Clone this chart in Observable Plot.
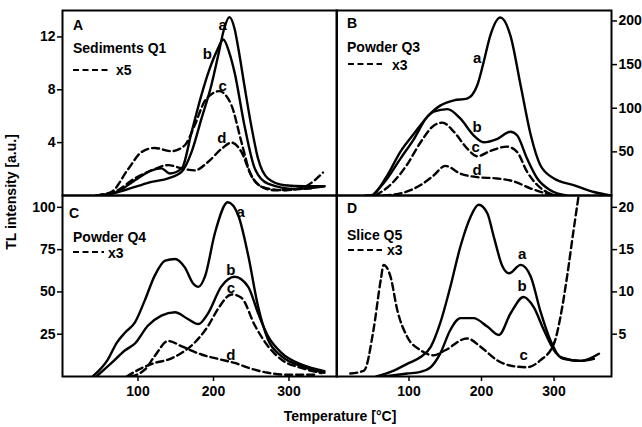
<!DOCTYPE html>
<html><head><meta charset="utf-8">
<script src="https://cdn.jsdelivr.net/npm/d3@7"></script>
<script src="https://cdn.jsdelivr.net/npm/@observablehq/plot@0.6"></script>
<style>
body{margin:0;background:#fff;}
#wrap{position:relative;width:642px;height:427px;overflow:hidden;background:#fff;}
#wrap svg{position:absolute;overflow:visible;}
</style></head><body><div id="wrap"></div>
<script>
// ---- Data: [temperature °C, TL intensity] ----
// Panel A: Sediments Q1 (c, d dashed = x5)
const A_a = [[45,0],[69,0.2],[96,0.65],[118,1.03],[140,1.3],[158,1.8],[171,3.3],[184,5.8],[197,8.3],[207,10.8],[214,12.6],[221,13.5],[228,12.6],[233,11.1],[241,8.3],[250,5.3],[259,2.8],[272,1.3],[294,0.78],[320,0.7],[347,0.7]];
const A_b = [[45,0],[69,0.2],[96,1.15],[118,1.9],[131,2.05],[142,1.66],[158,2.05],[171,4.8],[184,7.6],[195,9.6],[205,11],[213,11.8],[221,10.8],[228,9.3],[241,5.3],[255,2.0],[272,0.9],[308,0.5],[347,0.7]];
const A_c = [[45,0],[65,0.28],[87,2.0],[105,3.3],[122,3.6],[144,3.35],[162,3.8],[175,5.3],[188,7.1],[198,7.7],[208,7.9],[216,7.6],[224,6.8],[237,4.05],[248,1.8],[264,0.65],[281,0.4],[317,0.5],[330,0.55]];
const A_d = [[45,0],[69,0.28],[96,1.3],[118,1.9],[140,2.3],[158,2.05],[175,1.9],[193,2.55],[211,3.55],[224,4.0],[237,3.3],[250,1.5],[268,0.58],[294,0.4],[317,0.58],[334,1.15],[345,1.74]];
// Panel B: Powder Q3 (c, d dashed = x3)
const B_a = [[40,0],[47,0],[70,23],[88,50],[107,71],[125,90],[143,103],[162,109],[180,111],[194,126],[203,153],[212,183],[226,204],[240,183],[254,126],[268,69],[281,35],[300,19.5],[327,12],[355,4],[378,0]];
const B_b = [[50,0],[70,19.5],[88,42],[107,65],[125,90],[134,96],[153,99],[171,88],[189,69],[203,61],[222,65],[240,73],[249,69],[263,42],[277,19.5],[295,6],[317,0]];
const B_c = [[54,0],[79,16],[97,35],[116,61],[134,80],[146,83.5],[162,73],[180,54],[194,45],[212,51],[235,56],[249,50],[263,27],[277,12],[291,3.5],[305,0]];
const B_d = [[65,0],[93,3.5],[116,12],[134,23],[150,34],[171,25],[194,21],[222,19.5],[245,16],[268,8],[291,2],[305,0]];
// Panel C: Powder Q4 (c, d dashed = x3)
const C_a = [[40,0],[60,10],[72,20],[83,26],[96,32],[109,45],[122,59.5],[136,68.5],[149,69.5],[162,64.5],[173,55],[180,53],[189,59.5],[202,85],[219,103],[233,95],[246,71.5],[259,41.5],[272,22],[290,12],[317,6],[347,2.2]];
const C_b = [[45,0],[65,8],[83,15.5],[96,19.5],[113,30],[131,36],[149,38],[166,34],[180,31],[193,37.5],[210,53],[228,59],[246,53],[259,37.5],[272,24],[290,14],[317,7],[347,3.2]];
const C_c = [[85,0],[105,5],[122,8],[140,10],[158,14],[175,20],[193,30],[206,40],[224,48.5],[237,46.5],[255,30],[272,18],[290,10],[317,5],[343,2]];
const C_d = [[90,0],[109,4],[122,12],[140,21],[158,17.8],[184,13],[210,10],[228,8],[250,4.6],[272,2.2],[300,1],[335,1]];
// Panel D: Slice Q5 (c dashed = x3)
const D_a = [[55,0],[79,0.7],[97.5,1.5],[116,2.3],[130,3.5],[143,6.3],[157,10.6],[171,15.4],[185,18.9],[196,20.3],[208,19.3],[217,16.5],[229,13],[238,12.2],[254,13.2],[268,11.8],[281,7.8],[295,4.3],[309,2.3],[337,1.85],[362,2.7]];
const D_b = [[65,0],[97.5,0.35],[116,0.55],[130,1.1],[143,2.7],[157,5.5],[171,6.9],[189,6.9],[208,5.9],[224,4.9],[240,7.45],[258,9.4],[272,8.2],[286,5.5],[300,3.1],[313,2.1],[337,1.85],[355,2.1]];
const D_c = [[19,0.35],[38,0.7],[51,5.5],[61,11.4],[65,13.2],[74.5,11.8],[84,7.8],[97.5,4.7],[116,3.1],[134,2.5],[150,3.1],[180,4.5],[199,3.5],[222,1.9],[245,1.2],[263,1.1],[281,1.9],[300,3.9],[309,7.1],[318,11.8],[327,17.3],[334,21.4]];

// Tick values
const ticksA = [4, 8, 12];
const ticksB = [50, 100, 150, 200];
const ticksC = [25, 50, 75, 100];
const ticksD = [5, 10, 15, 20];
const ticksX = [100, 200, 300];

// Curve labels [T, value, letter]
const labA = [[212,12.9,"a"],[192,10.7,"b"],[212,8.3,"c"],[211,4.3,"d"]];
const labB = [[194,157,"a"],[194,78,"b"],[192,55,"c"],[194,29,"d"]];
const labC = [[236,97,"a"],[223,63,"b"],[223,52,"c"],[223,12.4,"d"]];
const labD = [[256,14.5,"a"],[256,10.65,"b"],[258,2.5,"c"]];

const FONT = "'Liberation Sans', Arial, sans-serif";
const M = 40;

function annot(items) {
  return (...args) => {
    const dims = args.find(a => a && a.marginLeft !== undefined);
    const g = d3.create("svg:g");
    for (const it of items) {
      if (it.dash) {
        g.append("line")
          .attr("x1", dims.marginLeft + it.x).attr("x2", dims.marginLeft + it.x + it.len)
          .attr("y1", dims.marginTop + it.y).attr("y2", dims.marginTop + it.y)
          .attr("stroke", "black").attr("stroke-width", 2.2).attr("stroke-dasharray", "6,3.5");
      } else {
        g.append("text")
          .attr("x", dims.marginLeft + it.x).attr("y", dims.marginTop + it.y)
          .attr("text-anchor", "start")
          .attr("font-size", it.size || 14).attr("fill", "black").text(it.t);
      }
    }
    return g.node();
  };
}

function panel(o) {
  const fw = o.x1 - o.x0, fh = o.y1 - o.y0;
  const line = (data, dashed) => Plot.line(data, {
    x: d => d[0], y: d => d[1], stroke: "black", strokeWidth: 2.4,
    curve: "monotone-x", clip: true,
    strokeDasharray: dashed ? "7,4" : null, strokeLinejoin: "round"
  });
  const marks = [
    Plot.frame({stroke: "black", strokeWidth: 2}),
    ...o.series.map(([d, dashed]) => line(d, dashed)),
    Plot.text(o.labels, {x: d => d[0], y: d => d[1], text: d => d[2], fontSize: 15, fill: "black"}),
    Plot.axisY({ticks: o.yTicks, anchor: o.yAnchor, tickSize: 5, tickPadding: 2, fontSize: 14, label: null, strokeWidth: 1.5}),
    annot(o.annot)
  ];
  if (o.xAxis) marks.push(Plot.axisX({ticks: ticksX, anchor: "bottom", tickSize: 5, tickPadding: 5, fontSize: 14, label: null, strokeWidth: 1.5}));
  const svg = Plot.plot({
    width: fw + 2 * M, height: fh + 2 * M,
    marginLeft: M, marginRight: M, marginTop: M, marginBottom: M,
    x: {domain: o.xDomain, axis: null},
    y: {domain: o.yDomain, axis: null},
    style: {background: "transparent", fontFamily: FONT, fontWeight: "bold", fontSize: "14px", color: "black", overflow: "visible"},
    marks
  });
  svg.style.left = (o.x0 - M) + "px";
  svg.style.top = (o.y0 - M) + "px";
  svg.style.maxWidth = "none";
  document.getElementById("wrap").appendChild(svg);
}

const X0 = 61.5, XM = 336, X1 = 611, Y0 = 10, YM = 195, Y1 = 376;

panel({x0: X0, x1: XM, y0: Y0, y1: YM, xDomain: [0, 363.6], yDomain: [0, 14.0],
  series: [[A_a,false],[A_b,false],[A_c,true],[A_d,true]], labels: labA,
  yTicks: ticksA, yAnchor: "left", xAxis: false,
  annot: [{t:"A",x:11,y:20},{t:"Sediments Q1",x:11,y:43},{dash:true,x:11,y:60,len:35},{t:"x5",x:54,y:65}]});
panel({x0: XM, x1: X1, y0: Y0, y1: YM, xDomain: [0, 379.3], yDomain: [0, 212],
  series: [[B_a,false],[B_b,false],[B_c,true],[B_d,true]], labels: labB,
  yTicks: ticksB, yAnchor: "right", xAxis: false,
  annot: [{t:"B",x:11,y:18},{t:"Powder Q3",x:11,y:42},{dash:true,x:12,y:54,len:34},{t:"x3",x:56,y:60}]});
panel({x0: X0, x1: XM, y0: YM, y1: Y1, xDomain: [0, 363.6], yDomain: [0, 107],
  series: [[C_a,false],[C_b,false],[C_c,true],[C_d,true]], labels: labC,
  yTicks: ticksC, yAnchor: "left", xAxis: true,
  annot: [{t:"C",x:7,y:23},{t:"Powder Q4",x:11,y:47},{dash:true,x:11,y:57,len:31},{t:"x3",x:46,y:63}]});
panel({x0: XM, x1: X1, y0: YM, y1: Y1, xDomain: [0, 379.3], yDomain: [0, 21.4],
  series: [[D_a,false],[D_b,false],[D_c,true]], labels: labD,
  yTicks: ticksD, yAnchor: "right", xAxis: true,
  annot: [{t:"D",x:11,y:18},{t:"Slice Q5",x:11,y:45},{dash:true,x:12,y:55,len:34},{t:"x3",x:51,y:60}]});

// Global axis titles
const ov = d3.create("svg").attr("width", 642).attr("height", 427)
  .style("left", "0px").style("top", "0px")
  .attr("font-family", FONT).attr("font-weight", "bold").attr("font-size", 14);
ov.append("text").attr("transform", "translate(16,192) rotate(-90)")
  .attr("text-anchor", "middle").text("TL intensity  [a.u.]");
ov.append("text").attr("x", 340).attr("y", 421).attr("text-anchor", "middle").text("Temperature  [°C]");
document.getElementById("wrap").appendChild(ov.node());
</script></body></html>
